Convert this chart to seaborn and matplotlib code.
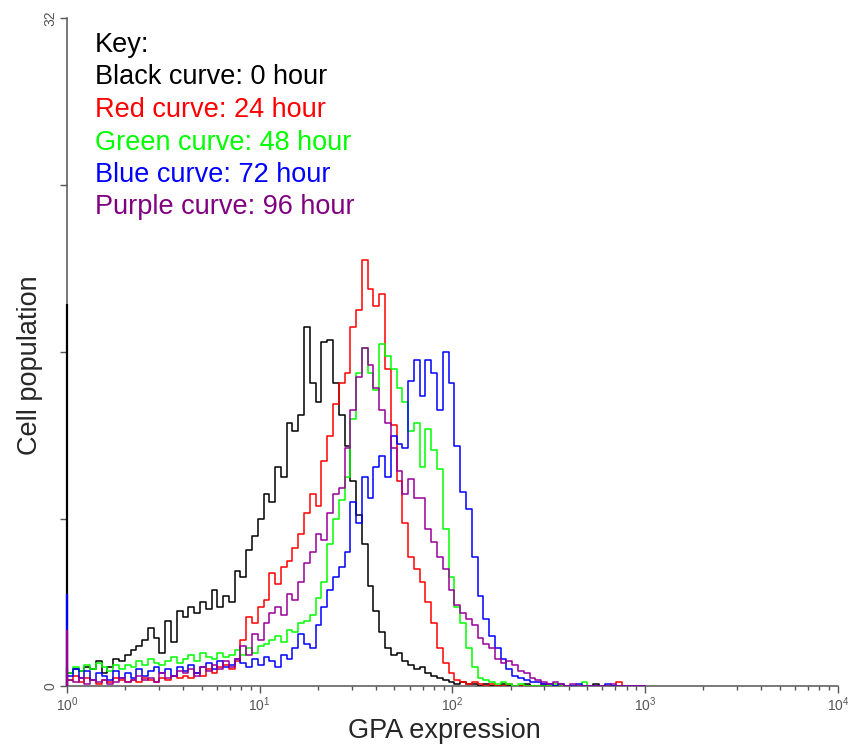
import numpy as np
import pandas as pd
import matplotlib
matplotlib.use("Agg")
import matplotlib.pyplot as plt
import seaborn as sns
from matplotlib.ticker import LogLocator, NullFormatter

# channel edges in decades (log10 of GPA expression), 0.03 decade per channel
channel_step = 0.03

# counts per channel, channel 0 starts at 10^0
black_0h = [0.6, 0.8, 0.7, 0.9, 0.8, 1.2, 0.6, 0.9, 1.3, 1.2,
            1.5, 1.7, 1.9, 2.2, 2.8, 2.3, 1.6, 3.1, 2.1, 3.6,
            3.3, 3.8, 3.5, 4.0, 3.7, 4.6, 3.8, 4.3, 4.0, 5.5,
            5.2, 6.5, 7.2, 8.0, 9.2, 8.8, 10.5, 10.0, 12.6, 12.2,
            13.0, 17.2, 14.5, 13.6, 16.5, 16.6, 14.5, 13.0, 11.5, 9.8,
            8.2, 6.8, 4.8, 3.6, 2.6, 1.8, 1.5, 1.6, 1.2, 1.0,
            0.8, 0.9, 0.6, 0.5, 0.4, 0.3, 0.2, 0.1, 0.2, 0.1,
            0.1, 0.0, 0.1, 0.0, 0.0, 0.1, 0.0, 0.0, 0.0, 0.1,
            0.0, 0.0, 0.0, 0.1, 0.0, 0.0, 0.0, 0.0, 0.0, 0.0,
            0.0, 0.1, 0.0, 0.0, 0.0, 0.0, 0.0, 0.0, 0.0, 0.0]

red_24h = [0.3, 0.5, 0.2, 0.4, 0.3, 0.1, 0.3, 0.2, 0.4, 0.3,
           0.2, 0.3, 0.2, 0.4, 0.3, 0.2, 0.4, 0.3, 0.5, 0.4,
           0.5, 0.4, 0.6, 0.5, 0.8, 0.6, 0.9, 1.0, 0.8, 1.2,
           2.2, 3.3, 3.0, 3.8, 4.1, 5.4, 4.9, 5.7, 6.0, 6.6,
           7.3, 8.3, 9.2, 8.6, 10.8, 12.0, 13.5, 14.5, 15.0, 17.2,
           18.0, 20.4, 19.0, 18.2, 18.8, 15.2, 12.5, 9.8, 7.8, 6.2,
           5.6, 5.0, 4.0, 3.0, 1.8, 1.1, 0.6, 0.3, 0.2, 0.1,
           0.2, 0.1, 0.0, 0.1, 0.0, 0.0, 0.1, 0.0, 0.0, 0.0,
           0.0, 0.0, 0.1, 0.0, 0.0, 0.0, 0.0, 0.0, 0.0, 0.0,
           0.0, 0.0, 0.0, 0.0, 0.0, 0.2, 0.0, 0.0, 0.0, 0.0]

green_48h = [0.6, 0.9, 0.7, 1.0, 0.8, 1.1, 0.9, 0.7, 1.0, 0.8,
             1.0, 0.9, 1.2, 1.0, 1.3, 1.1, 1.0, 1.2, 1.4, 1.1,
             1.3, 1.5, 1.2, 1.6, 1.4, 1.3, 1.6, 1.4, 1.5, 1.7,
             1.5, 1.8, 1.6, 1.9, 2.0, 2.2, 2.4, 2.1, 2.7, 2.6,
             3.0, 3.1, 3.4, 4.2, 5.0, 6.8, 8.0, 8.9, 10.0, 12.8,
             15.0, 16.2, 15.0, 14.2, 16.4, 15.8, 15.2, 14.3, 13.6, 12.2,
             12.6, 10.5, 12.3, 11.3, 10.4, 7.5, 5.2, 3.8, 3.0, 1.8,
             0.9, 0.4, 0.3, 0.2, 0.1, 0.2, 0.1, 0.0, 0.1, 0.0,
             0.0, 0.0, 0.0, 0.0, 0.1, 0.0, 0.0, 0.0, 0.0, 0.2,
             0.0, 0.0, 0.0, 0.0, 0.0, 0.0, 0.0, 0.0, 0.0, 0.0]

blue_72h = [0.5, 0.8, 0.4, 0.7, 0.3, 0.6, 0.5, 0.3, 0.7, 0.4,
            0.6, 0.4, 0.8, 0.5, 0.7, 0.9, 0.6, 0.8, 0.5, 0.9,
            0.7, 1.0, 0.6, 0.9, 1.1, 0.8, 1.2, 0.9, 1.0, 1.3,
            1.1, 0.9, 1.3, 1.0, 1.4, 1.2, 0.9, 1.5, 1.3, 1.8,
            2.5, 2.0, 1.8, 2.9, 3.8, 4.6, 5.2, 5.7, 6.4, 8.8,
            7.8, 10.0, 9.0, 10.5, 11.0, 10.0, 12.0, 11.6, 11.4, 14.6,
            15.6, 13.9, 15.6, 15.0, 13.2, 16.0, 14.5, 11.5, 9.3, 8.5,
            6.2, 4.3, 3.2, 2.4, 1.8, 1.3, 0.8, 0.5, 0.4, 0.3,
            0.2, 0.2, 0.1, 0.1, 0.0, 0.1, 0.0, 0.0, 0.1, 0.0,
            0.0, 0.0, 0.0, 0.1, 0.0, 0.0, 0.0, 0.0, 0.0, 0.0]

purple_96h = [0.3, 0.2, 0.4, 0.1, 0.3, 0.2, 0.3, 0.1, 0.2, 0.4,
              0.2, 0.3, 0.5, 0.3, 0.4, 0.2, 0.6, 0.4, 0.5, 0.7,
              0.6, 0.8, 0.5, 0.9, 0.7, 1.0, 0.8, 1.2, 0.9, 1.3,
              1.9, 1.5, 2.5, 2.2, 3.0, 3.5, 3.8, 3.4, 4.4, 4.1,
              5.0, 5.9, 6.4, 7.3, 7.0, 8.3, 9.2, 9.5, 11.4, 13.2,
              14.8, 16.2, 15.4, 14.3, 13.2, 12.6, 11.4, 10.3, 9.2, 9.9,
              9.0, 9.0, 7.5, 6.9, 6.2, 5.6, 4.6, 3.9, 3.5, 3.2,
              2.9, 2.3, 2.0, 1.8, 1.3, 1.1, 1.2, 1.0, 0.7, 0.6,
              0.4, 0.3, 0.2, 0.1, 0.2, 0.1, 0.0, 0.1, 0.0, 0.0,
              0.0, 0.0, 0.0, 0.0, 0.1, 0.0, 0.0, 0.0, 0.0, 0.0]

# pile-up in the very first channel (values at 10^0)
first_channel = [18.3, 0.8, 1.0, 4.4, 2.7]

times = ["0 hour", "24 hour", "48 hour", "72 hour", "96 hour"]
curve_colors = ["#000000", "#ff0000", "#00ff00", "#0000ff", "#990099"]
key_colors = ["#000000", "#ff0000", "#00ff00", "#0000ff", "#800080"]
key_names = ["Black", "Red", "Green", "Blue", "Purple"]

series = [black_0h, red_24h, green_48h, blue_72h, purple_96h]
rows = []
for t, vals in zip(times, series):
    edges = 10 ** (np.arange(len(vals) + 1) * channel_step)
    vals_ext = list(vals) + [vals[-1]]
    rows.append(pd.DataFrame({"gpa": edges, "count": vals_ext, "time": t}))
df = pd.concat(rows, ignore_index=True)

sns.set_style("ticks")
plt.rcParams["font.family"] = ["Liberation Sans", "DejaVu Sans"]

fig = plt.figure(figsize=(8.51, 7.47), dpi=100)
ax = fig.add_axes([0.0787, 0.0817, 0.906, 0.894])

sns.lineplot(data=df, x="gpa", y="count", hue="time", palette=curve_colors,
             estimator=None, drawstyle="steps-post", linewidth=1.1,
             legend=False, ax=ax, zorder=3)
ax.vlines([1.0] * len(first_channel), 0, first_channel, colors=curve_colors,
          linewidth=1.6, clip_on=False, zorder=4)

ax.set_xscale("log")
ax.set_xlim(1, 1e4)
ax.set_ylim(0, 32)

gray = "#555555"
for side in ["top", "right"]:
    ax.spines[side].set_visible(False)
for side in ["left", "bottom"]:
    ax.spines[side].set_color(gray)
    ax.spines[side].set_linewidth(1.1)

ax.xaxis.set_major_locator(LogLocator(base=10, numticks=10))
ax.xaxis.set_minor_locator(LogLocator(base=10, subs=np.arange(2, 10), numticks=20))
ax.xaxis.set_minor_formatter(NullFormatter())
ax.tick_params(axis="x", which="major", length=5, width=1, color=gray,
               labelsize=10, labelcolor=gray, pad=2)
ax.tick_params(axis="x", which="minor", length=3, width=1, color=gray)

ax.set_yticks([0, 8, 16, 24, 32])
ax.set_yticklabels(["0", "", "", "", "32"])
ax.tick_params(axis="y", length=5, width=1, color=gray, labelsize=10,
               labelcolor=gray, labelrotation=90, pad=2)
for lab in ax.get_yticklabels():
    lab.set_verticalalignment("center")

ax.set_xlabel("GPA expression", fontsize=19.5)
ax.set_ylabel("Cell population", fontsize=19.5)
ax.xaxis.set_label_coords(0.49, -0.048)
ax.yaxis.set_label_coords(-0.031, 0.48)

key_lines = ["Key:"] + [f"{n} curve: {t}" for n, t in zip(key_names, times)]
key_text_colors = ["#000000"] + key_colors
baselines_px = [52, 84.5, 117, 149.5, 182, 214.5]
for txt, c, yb in zip(key_lines, key_text_colors, baselines_px):
    fig.text(95 / 851, 1 - yb / 747, txt, color=c, fontsize=19.5,
             ha="left", va="baseline")

fig.savefig("out.png", dpi=100)
